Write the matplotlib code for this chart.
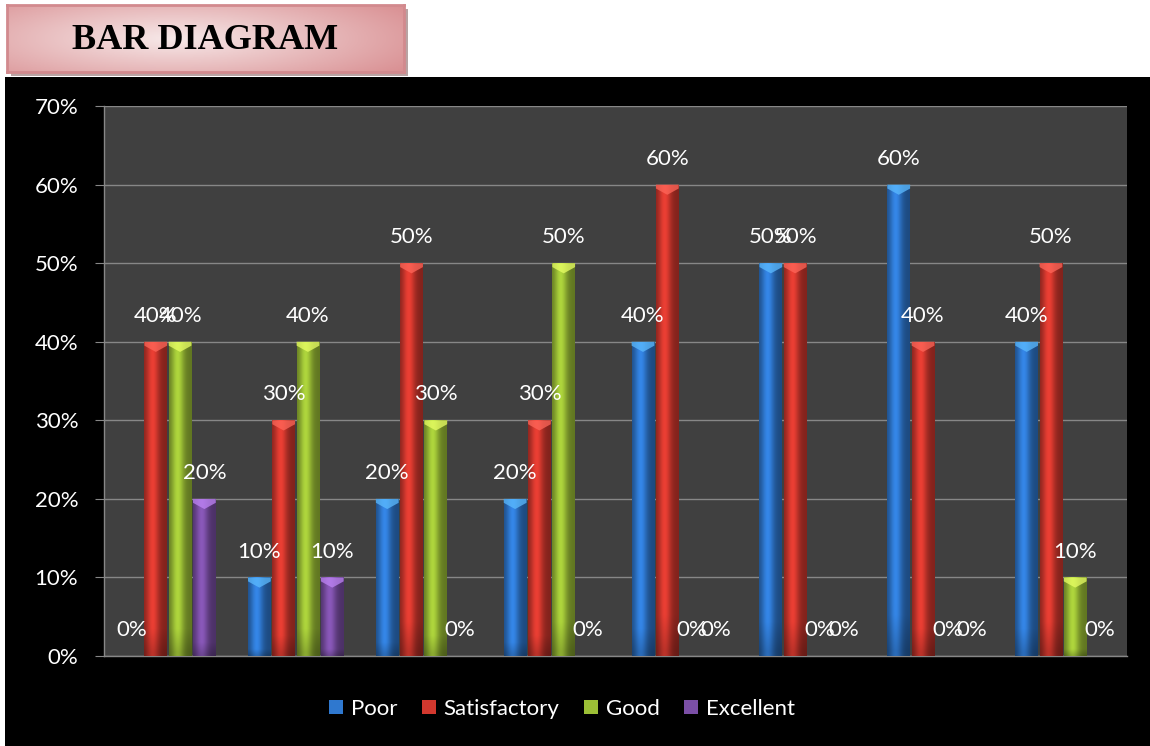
import numpy as np
import matplotlib
matplotlib.use('Agg')
import matplotlib.pyplot as plt
from matplotlib.patches import Rectangle, Polygon
from matplotlib.colors import to_rgb

# data
items = ['1', '2', '3', '4', '5', '6', '7', '8']
series_names = ['Poor', 'Satisfactory', 'Good', 'Excellent']
poor = [0, 10, 20, 20, 40, 50, 60, 40]
satisfactory = [40, 30, 50, 30, 60, 50, 40, 50]
good = [40, 40, 30, 50, 0, 0, 0, 10]
excellent = [20, 10, 0, 0, 0, 0, 0, 0]
yticks = [0, 10, 20, 30, 40, 50, 60, 70]
title = 'BAR DIAGRAM'

colors = ['#2f78cf', '#d2382e', '#9cbf36', '#7b4fa6']

plt.rcParams['font.family'] = ['Lato', 'DejaVu Sans']

W, H = 1150, 746
fig = plt.figure(figsize=(W / 100, H / 100), dpi=100, facecolor='white')

# black chart background
fig.patches.append(Rectangle((5 / W, 0), 1 - 5 / W, 1 - 77 / H, transform=fig.transFigure,
                             facecolor='black', edgecolor='none', zorder=-2))

# title box with shadow and pink gradient
tx0, ty0, tx1, ty1 = 7 / W, 1 - 72 / H, 404 / W, 1 - 5 / H
fig.patches.append(Rectangle((tx0 + 4 / W, ty0 - 4 / H), tx1 - tx0, ty1 - ty0, transform=fig.transFigure,
                             facecolor='#b9a3a3', edgecolor='none', zorder=-1))
tax = fig.add_axes([tx0, ty0, tx1 - tx0, ty1 - ty0])
gx = np.linspace(0, 1, 200)
gy = np.linspace(0, 1, 40)
GX, GY = np.meshgrid(gx, gy)
d = np.clip(np.sqrt(((GX - 0.42) / 0.7) ** 2 + ((GY - 0.5) / 0.9) ** 2), 0, 1)
c_in = np.array(to_rgb('#f7e9e9'))
c_out = np.array(to_rgb('#d98f92'))
img = c_in[None, None, :] * (1 - d[..., None]) + c_out[None, None, :] * d[..., None]
tax.imshow(img, extent=[0, 1, 0, 1], aspect='auto', origin='lower')
tax.set_xlim(0, 1)
tax.set_ylim(0, 1)
tax.set_xticks([])
tax.set_yticks([])
for s in tax.spines.values():
    s.set_color('#d28a8e')
    s.set_linewidth(2)
tax.text(0.5, 0.47, title, ha='center', va='center', fontsize=26, fontweight='bold',
         family=['Liberation Serif', 'DejaVu Serif'], color='black')

# main chart
ax = fig.add_axes([104 / W, 1 - 656 / H, (1127 - 104) / W, (656 - 106) / H])
ax.set_facecolor('#404040')

x = np.arange(len(items))
slot = 0.19
bw = 0.178
all_series = [poor, satisfactory, good, excellent]

for i, (vals, col) in enumerate(zip(all_series, colors)):
    pos = x + (i - 1.5) * slot
    bars = ax.bar(pos, vals, width=bw, color=col, zorder=3, linewidth=0)
    base = np.array(to_rgb(col))
    hx = np.linspace(0, 1, 60)
    shade = 0.62 + 0.5 * np.exp(-((hx - 0.38) / 0.28) ** 2)
    vy = np.linspace(0, 1, 40)
    vshade = 0.8 + 0.2 * np.clip(vy / 0.08, 0, 1)
    grad = np.clip(base[None, None, :] * shade[None, :, None] * vshade[:, None, None], 0, 1)
    light = np.clip(base * 1.3 + 0.12, 0, 1)
    for b, v in zip(bars, vals):
        if v <= 0:
            continue
        bx, by, bwid = b.get_x(), b.get_y(), b.get_width()
        im = ax.imshow(grad, extent=[bx, bx + bwid, by, by + b.get_height()], origin='lower',
                       aspect='auto', zorder=4, interpolation='bilinear')
        im.set_clip_path(b)
        # lighter cap with a small pointed highlight on top
        ax.add_patch(Polygon([(bx, v), (bx + bwid, v), (bx + bwid, v - 0.5),
                              (bx + bwid * 0.5, v - 1.3), (bx, v - 0.5)],
                             closed=True, facecolor=light, edgecolor='none', alpha=0.75, zorder=5))
    for p, v in zip(pos, vals):
        ax.text(p, v + 3.3, f'{v}%', ha='center', va='center', color='white', fontsize=16, zorder=6)

ax.set_xlim(-0.5, len(items) - 0.5)
ax.set_ylim(0, 70)
ax.set_yticks(yticks)
ax.set_yticklabels([f'{t}%' for t in yticks], color='white', fontsize=16)
ax.set_xticks([])
ax.yaxis.grid(True, color='#878787', linewidth=1, zorder=1)
ax.set_axisbelow(True)
ax.tick_params(axis='y', length=6.5, color='#878787', pad=12)
for name in ['top', 'right']:
    ax.spines[name].set_visible(False)
for name in ['left', 'bottom']:
    ax.spines[name].set_color('#878787')
    ax.spines[name].set_linewidth(1)

handles = [Rectangle((0, 0), 1, 1, facecolor=c, edgecolor='none') for c in colors]
leg = fig.legend(handles, series_names, loc='center', bbox_to_anchor=(562 / W, 1 - 709 / H),
                 ncol=4, frameon=False, fontsize=16, handlelength=0.63, handleheight=0.63,
                 handletextpad=0.36, columnspacing=1.1)
for t in leg.get_texts():
    t.set_color('white')

fig.savefig('out.png', dpi=100, facecolor=fig.get_facecolor())
